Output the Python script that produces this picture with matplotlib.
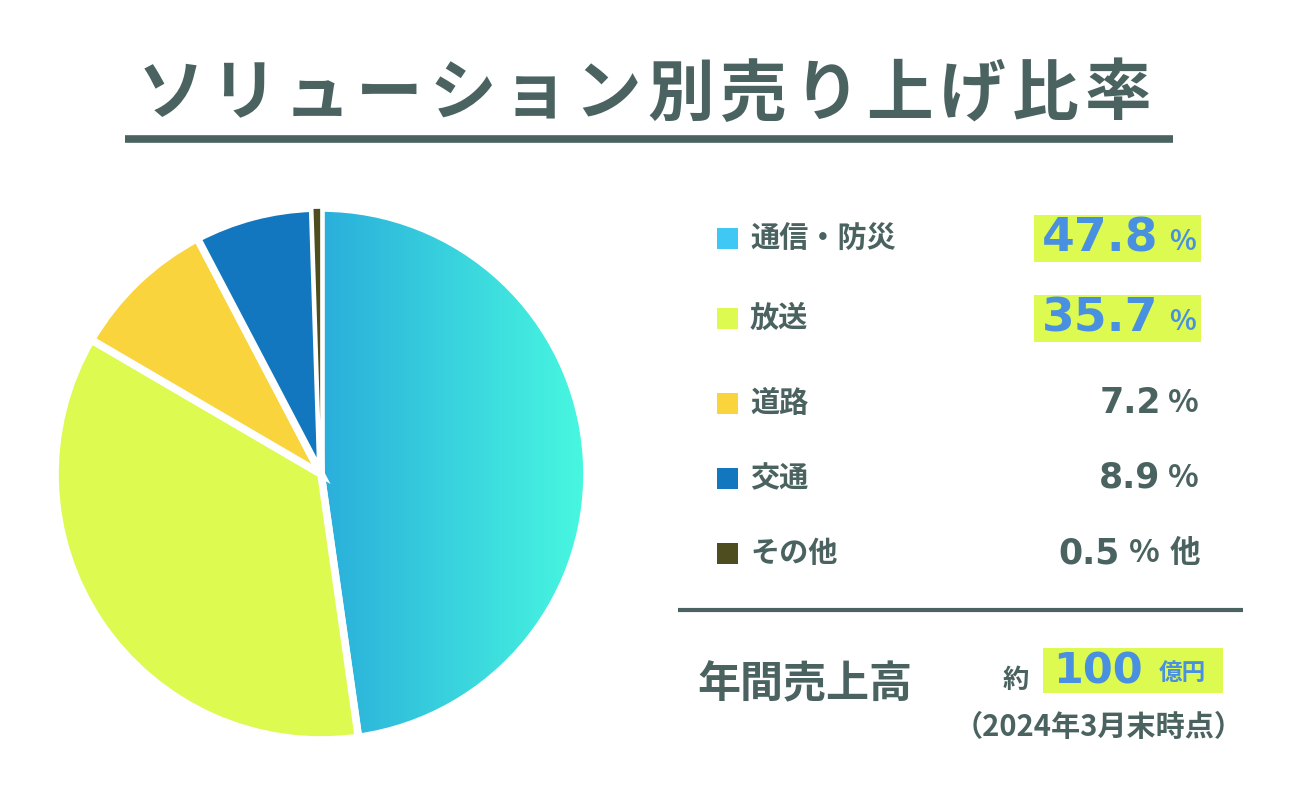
import numpy as np
import matplotlib
matplotlib.use("Agg")
import matplotlib.pyplot as plt

plt.rcParams["font.family"] = ["Noto Sans CJK JP", "DejaVu Sans"]

# Chart data
title = "ソリューション別売り上げ比率"
pie_labels = ["通信・防災", "放送", "交通", "道路", "その他"]   # clockwise from 12 o'clock
pie_shares = [47.8, 35.7, 8.9, 7.2, 0.5]
pie_colors = [None, "#dcfa50", "#fad43c", "#1277be", "#4d4d1f"]  # None = gradient wedge
grad_left, grad_right = "#2aaedb", "#48f8e0"

legend_labels = ["通信・防災", "放送", "道路", "交通", "その他"]
legend_colors = ["#40c8f4", "#dcfa50", "#fad43c", "#1277be", "#4d4d1f"]
legend_values = ["47.8", "35.7", "7.2", "8.9", "0.5"]
legend_suffix = ["%", "%", "%", "%", "% 他"]
legend_highlight = [True, True, False, False, False]

sales_label = "年間売上高"
sales_value = "100"
sales_unit = "億円"
sales_note = "（2024年3月末時点）"

DARK = "#4a6360"
BLUE = "#4a90e0"
LIME = "#dcfa50"

fig = plt.figure(figsize=(13, 8), dpi=100)
bg = fig.add_axes([0, 0, 1, 1])
bg.set_xlim(0, 1300)
bg.set_ylim(800, 0)
bg.axis("off")

# Title, one glyph at a time for the wide letter spacing
step = (1118 - 171) / (len(title) - 1)
for i, ch in enumerate(title):
    bg.text(171 + i * step, 95, ch, fontsize=48, fontweight="bold", color=DARK,
            ha="center", va="center")
bg.plot([125, 1173], [139, 139], color=DARK, lw=5.5, solid_capstyle="butt")

# Pie
cx, cy, r = 321, 474, 266
pax = fig.add_axes([(cx - r) / 1300, (800 - cy - r) / 800, 2 * r / 1300, 2 * r / 800])
wedges, _ = pax.pie(pie_shares, startangle=90, counterclock=False,
                    colors=[c if c else "none" for c in pie_colors],
                    wedgeprops=dict(edgecolor="white", linewidth=5.5))
pax.set_xlim(-1, 1)
pax.set_ylim(-1, 1)
pax.set_aspect("auto")

# Horizontal gradient in the first wedge
c1 = np.array(matplotlib.colors.to_rgb(grad_left))
c2 = np.array(matplotlib.colors.to_rgb(grad_right))
t = np.linspace(0, 1, 256)
grad = (c1[None, :] * (1 - t[:, None]) + c2[None, :] * t[:, None])[None, :, :]
im = pax.imshow(grad, extent=[0, 1, -1, 1], aspect="auto", zorder=0,
                interpolation="bilinear")
im.set_clip_path(wedges[0])
for w in wedges:
    w.set_zorder(2)
# thin sliver would vanish under the thick edge, so keep it on top with a fine edge
wedges[-1].set_zorder(3)
wedges[-1].set_linewidth(1.2)

# Legend rows
row_y = [238, 318, 403, 478, 553]
for y, lab, col, val, suf, hi in zip(row_y, legend_labels, legend_colors,
                                      legend_values, legend_suffix, legend_highlight):
    bg.add_patch(plt.Rectangle((717, y - 10.5), 21, 21, color=col, lw=0))
    bg.text(750, y, lab, fontsize=21, fontweight="bold", color=DARK,
            ha="left", va="center")
    if hi:
        bg.add_patch(plt.Rectangle((1034, y - 23.5), 167, 47, color=LIME, lw=0))
        bg.text(1100, y + 1, val, fontsize=34, fontweight="heavy", color=BLUE,
                ha="center", va="center", family="DejaVu Sans")
        bg.text(1196, y + 4, suf, fontsize=20, fontweight="bold", color=BLUE,
                ha="right", va="center")
    else:
        if suf == "%":
            bg.text(1130, y, val, fontsize=25, fontweight="bold", color=DARK,
                    ha="center", va="center", family="DejaVu Sans")
            bg.text(1199, y, suf, fontsize=23, fontweight="bold", color=DARK,
                    ha="right", va="center")
        else:
            bg.text(1089, y, val, fontsize=25, fontweight="bold", color=DARK,
                    ha="center", va="center", family="DejaVu Sans")
            bg.text(1160, y, "%", fontsize=23, fontweight="bold", color=DARK,
                    ha="right", va="center")
            bg.text(1200, y, suf.split()[-1], fontsize=22, fontweight="bold",
                    color=DARK, ha="right", va="center")

bg.plot([678, 1243], [610, 610], color=DARK, lw=3, solid_capstyle="butt")

# Annual sales
bg.text(697, 684, sales_label, fontsize=31, fontweight="bold", color=DARK,
        ha="left", va="center")
bg.text(1016, 680, "約", fontsize=19, fontweight="bold", color=DARK,
        ha="center", va="center")
bg.add_patch(plt.Rectangle((1043, 648), 180, 45, color=LIME, lw=0))
bg.text(1098, 671, sales_value, fontsize=31, fontweight="heavy", color=BLUE,
        ha="center", va="center", family="DejaVu Sans")
bg.text(1182, 673, sales_unit, fontsize=17, fontweight="bold", color=BLUE,
        ha="center", va="center")
bg.text(1244, 727, sales_note, fontsize=21, fontweight="bold", color=DARK,
        ha="right", va="center")

fig.savefig("out.png", dpi=100, facecolor="white")
